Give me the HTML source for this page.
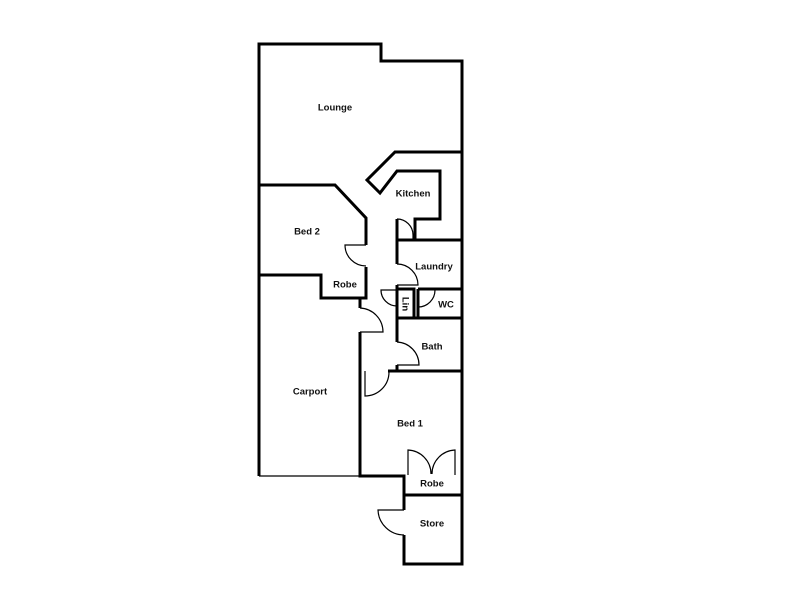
<!DOCTYPE html>
<html><head><style>
html,body{margin:0;padding:0;background:#fff;width:800px;height:600px;overflow:hidden}
text{font-family:"Liberation Sans",sans-serif;font-size:9.5px;font-weight:bold;fill:#111;text-anchor:middle;dominant-baseline:middle}
</style></head><body>
<svg width="800" height="600" viewBox="0 0 800 600">
<g fill="none" stroke="#000" stroke-width="3" stroke-linejoin="miter">
<polyline points="259,476 259,44 381,44 381,61 462,61 462,564 404,564 404,535"/>
<polyline points="404,510 404,476 360,476 360,332"/>
<line x1="360" y1="308" x2="360" y2="298"/>
<polyline points="259,185 335,185 366,218 366,245"/>
<polyline points="366,267 366,298 321,298 321,275 259,275"/>
<polyline points="462,152 395,152 367,180 380,193 397,171 440,171 440,219 415,219 415,240"/>
<line x1="397" y1="219" x2="397" y2="240"/>
<polyline points="397,264 397,240 462,240"/>
<polyline points="397,285 397,289 414,289 414,318"/>
<line x1="418" y1="289" x2="462" y2="289"/>
<line x1="418" y1="289" x2="418" y2="318"/>
<polyline points="397,290 397,318"/>
<polyline points="397,342 397,318 462,318"/>
<line x1="397" y1="365" x2="397" y2="371"/>
<line x1="388" y1="371" x2="462" y2="371"/>
<line x1="404" y1="495" x2="462" y2="495"/>
</g>
<g fill="none" stroke="#000" stroke-width="1.2">
<line x1="259" y1="476" x2="360" y2="476"/>
<path d="M366,245 L345,245 A21,21 0 0 0 366,266"/>
<path d="M360,308 A24,24 0 0 1 383,332 L360,332"/>
<path d="M397,219 A16,16 0 0 1 413,235 L413,240"/>
<path d="M397,264 A21,21 0 0 1 418,285 L397,285"/>
<path d="M397,290 L381,290 A16,16 0 0 0 397,306"/>
<path d="M418,307 A17,17 0 0 0 435,290"/>
<path d="M397,342 A23,23 0 0 1 419,365 L397,365"/>
<path d="M365,371 L365,396 A24,24 0 0 0 389,372"/>
<path d="M408,475 L408,450 A24,24 0 0 1 431,474"/>
<path d="M455,475 L455,450 A24,24 0 0 0 432,474"/>
<path d="M404,510 L378,510 A26,26 0 0 0 404,535"/>
</g>
<text x="335" y="108">Lounge</text>
<text x="413" y="194">Kitchen</text>
<text x="307" y="232">Bed 2</text>
<text x="434" y="267">Laundry</text>
<text x="345" y="285">Robe</text>
<text x="405" y="304" transform="rotate(90 405 304)">Lin</text>
<text x="446" y="305">WC</text>
<text x="432" y="347">Bath</text>
<text x="310" y="392">Carport</text>
<text x="410" y="424">Bed 1</text>
<text x="432" y="484">Robe</text>
<text x="432" y="524">Store</text>
</svg>
</body></html>
